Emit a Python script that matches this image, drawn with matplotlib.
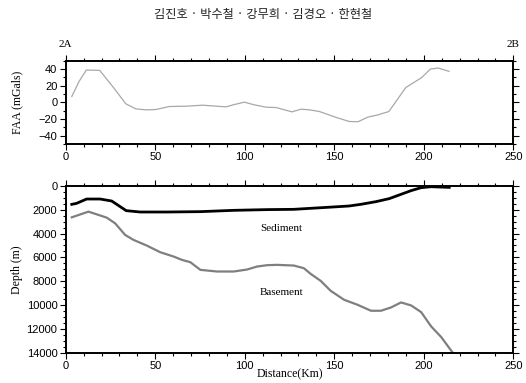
"""단면 2A-2B: 프리에어 이상(FAA)과 퇴적층/기반암 깊이."""

import matplotlib
matplotlib.use("Agg")
import matplotlib.pyplot as plt
from matplotlib.ticker import MultipleLocator

# --- 프리에어 이상 (mGal) ---
faa_km = [3.4, 7.4, 11.5, 19.0, 27.0, 33.6, 39.2, 44.8, 50.4, 57.8, 67.2, 76.5,
          89.5, 94.2, 99.8, 105.4, 111.9, 117.5, 126.3, 131.5, 136.2, 141.7,
          151.1, 158.2, 163.2, 168.8, 174.4, 180.5, 189.9, 198.7, 203.7, 208.0, 214.1]
faa_mgal = [7, 24.9, 38.8, 38.4, 16.9, -1.8, -7.8, -9, -8.6, -5, -4.6, -3.4,
            -5.4, -2.6, 0.2, -3, -5.8, -6.2, -11.4, -8.2, -9, -11,
            -18.1, -22.9, -23.3, -17.7, -15, -11, 17.7, 29.6, 40, 41.2, 37.2]

# --- 퇴적층 하부 깊이 (m) ---
sed_km = [3.4, 6.1, 11.7, 19.2, 25.7, 33.8, 41.6, 56.5, 75.2, 93.8, 112.5,
          127.4, 146.1, 158.2, 164.8, 173.2, 180.6, 187.2, 192.8, 198.4, 204.0, 214.2]
sed_depth = [1560, 1475, 1113, 1113, 1280, 2087, 2200, 2200, 2170, 2060, 2000,
             1976, 1809, 1698, 1558, 1336, 1085, 724, 417, 167, 83, 139]

# --- 기반암 깊이 (m) ---
bas_km = [3.4, 12.7, 17.3, 22.9, 27.6, 33.2, 37.9, 45.3, 52.8, 60.3, 64.9, 69.6,
          75.2, 84.5, 93.8, 101.3, 106.9, 112.5, 118.1, 127.4, 133.0, 136.8,
          142.4, 148.0, 155.5, 163.0, 170.5, 176.1, 181.7, 187.3, 192.9, 198.5,
          204.1, 209.7, 216.3]
bas_depth = [2644, 2170, 2393, 2672, 3145, 4119, 4536, 5009, 5566, 5928, 6206, 6400,
             7040, 7180, 7180, 7013, 6763, 6650, 6623, 6680, 6902, 7375,
             7960, 8795, 9546, 9963, 10464, 10464, 10186, 9768, 10018, 10575,
             11772, 12663, 14000]

title = "김진호 · 박수철 · 강무희 · 김경오 · 한현철"

serif = ["Liberation Serif", "DejaVu Serif"]
plt.rcParams["font.family"] = ["Liberation Sans", "DejaVu Sans"]
plt.rcParams["font.size"] = 8


def style_axes(ax):
    for s in ax.spines.values():
        s.set_linewidth(1.4)
    ax.xaxis.set_major_locator(MultipleLocator(50))
    ax.xaxis.set_minor_locator(MultipleLocator(10))
    ax.tick_params(which="both", direction="out", top=True, right=True,
                   labelright=False, labeltop=False, width=0.8, pad=2)
    ax.tick_params(which="major", length=4)
    ax.tick_params(which="minor", length=2)
    ax.set_xlim(0, 250)


fig = plt.figure(figsize=(5.26, 3.83), dpi=100)
fig.text(0.5, 0.962, title, ha="center", va="center", fontsize=8.8,
         family=["Noto Sans CJK KR", "DejaVu Sans"], color="#222222")

ax1 = fig.add_axes([0.1249, 0.624, 0.851, 0.2175])
ax1.plot(faa_km, faa_mgal, color="#a8a8a8", lw=0.9)
style_axes(ax1)
ax1.set_ylim(-50, 50)
ax1.yaxis.set_major_locator(MultipleLocator(20))
ax1.yaxis.set_minor_locator(MultipleLocator(10))
ax1.set_ylabel("FAA (mGals)", family=serif, fontsize=8.5)
ax1.yaxis.set_label_coords(-0.095, 0.5)
ax1.text(0, 1.2, "2A", transform=ax1.transAxes, ha="center", va="center",
         family=serif, fontsize=8)
ax1.text(1, 1.2, "2B", transform=ax1.transAxes, ha="center", va="center",
         family=serif, fontsize=8)

ax2 = fig.add_axes([0.1249, 0.0783, 0.851, 0.4368])
ax2.plot(sed_km, sed_depth, color="black", lw=2.0)
ax2.plot(bas_km, bas_depth, color="#7f7f7f", lw=1.6)
style_axes(ax2)
ax2.set_ylim(14000, 0)
ax2.yaxis.set_major_locator(MultipleLocator(2000))
ax2.yaxis.set_minor_locator(MultipleLocator(500))
ax2.set_ylabel("Depth (m)", family=serif, fontsize=8.5)
ax2.yaxis.set_label_coords(-0.095, 0.5)
ax2.set_xlabel("Distance(Km)", family=serif, fontsize=8.5)
ax2.xaxis.set_label_coords(0.5, -0.09)
ax2.text(108.5, 3600, "Sediment", family=serif, fontsize=8, va="center")
ax2.text(108.5, 8900, "Basement", family=serif, fontsize=8, va="center")

fig.savefig("out.png", dpi=100)
